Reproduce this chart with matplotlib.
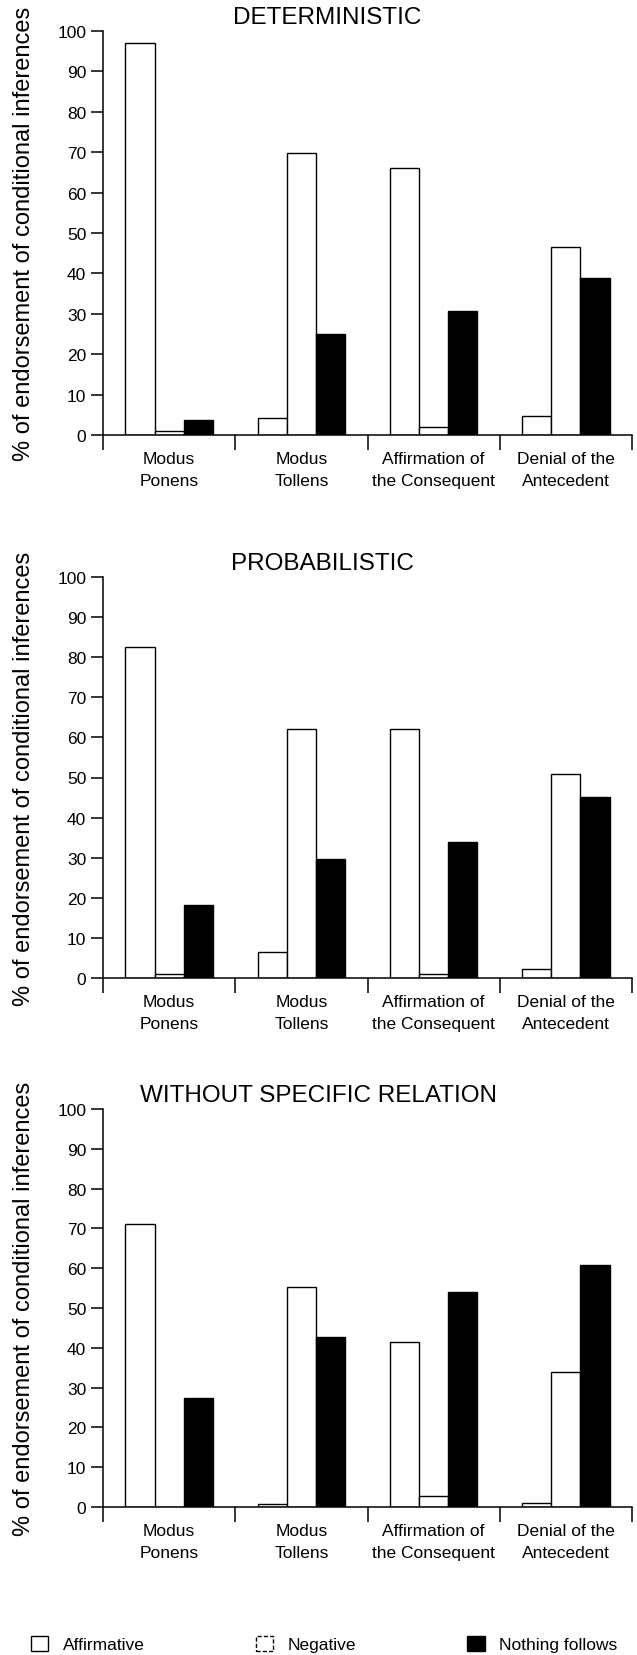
import matplotlib
matplotlib.use("Agg")
import matplotlib.pyplot as plt
from matplotlib import font_manager
from matplotlib.patches import Patch
import numpy as np

# inference types, one group of bars each
inferences = ["Modus\nPonens", "Modus\nTollens", "Affirmation of\nthe Consequent", "Denial of the\nAntecedent"]

# % endorsement
det_aff = [97.0, 4.3, 66.2, 4.8]
det_neg = [1.0, 69.7, 2.1, 46.6]
det_nf = [3.8, 25.1, 30.7, 38.9]

prob_aff = [82.6, 6.4, 62.2, 2.2]
prob_neg = [1.1, 62.2, 0.9, 50.9]
prob_nf = [18.2, 29.6, 33.9, 45.1]

wsr_aff = [71.1, 0.8, 41.5, 1.0]
wsr_neg = [0.0, 55.3, 2.7, 33.8]
wsr_nf = [27.3, 42.8, 54.0, 60.8]

panels = [
    ("DETERMINISTIC", det_aff, det_neg, det_nf),
    ("PROBABILISTIC", prob_aff, prob_neg, prob_nf),
    ("WITHOUT SPECIFIC RELATION", wsr_aff, wsr_neg, wsr_nf),
]
ylabel = "% of endorsement of conditional inferences"

installed = {f.name for f in font_manager.fontManager.ttflist}
if "Liberation Sans Narrow" in installed:
    NARROW, small = "Liberation Sans Narrow", 15
else:
    NARROW, small = "Liberation Sans", 12.5
SANS = "Liberation Sans"

W, H = 637, 1656
fig = plt.figure(figsize=(W / 100, H / 100), dpi=100)
frames = [(32, 436), (578, 979), (1110, 1508)]  # top/bottom of each panel in px
title_x = [327, 322, 319]                        # title centres in px
w = 0.22

for (title, aff, neg, nf), (top, bot), tx in zip(panels, frames, title_x):
    ax = fig.add_axes([103 / W, 1 - bot / H, 529 / W, (bot - top) / H])
    x = np.arange(len(inferences)) + 0.5
    ax.bar(x - w, aff, w, facecolor="white", edgecolor="black", linewidth=1)
    ax.bar(x, neg, w, facecolor="white", edgecolor="black", linewidth=1)
    ax.bar(x + w, nf, w, facecolor="black", edgecolor="black", linewidth=1)

    ax.set_xlim(0, 4)
    ax.set_ylim(0, 100)
    ax.set_yticks(range(0, 101, 10))
    for lab in ax.get_yticklabels():
        lab.set_family(NARROW)
        lab.set_fontsize(12.5)
    ax.set_xticks(range(5))
    ax.set_xticklabels([])
    ax.set_xticks(x, minor=True)
    ax.set_xticklabels(inferences, minor=True, family=NARROW, fontsize=small, linespacing=1.55)
    ax.tick_params(axis="x", which="major", length=11, width=1.1)
    ax.tick_params(axis="x", which="minor", length=0, pad=11.5)
    ax.tick_params(axis="y", length=9, width=1.1, pad=3)
    for s in ("top", "right"):
        ax.spines[s].set_visible(False)
    for s in ("left", "bottom"):
        ax.spines[s].set_linewidth(1.1)

    fig.text(tx / W, 1 - (top - 14) / H, title,
             ha="center", va="center", family=SANS, fontsize=17.5)
    fig.text(24 / W, 1 - (top + bot) / 2 / H, ylabel, rotation=90,
             ha="center", va="center", family=SANS, fontsize=17)

handles = [
    Patch(facecolor="white", edgecolor="black", linewidth=1, label="Affirmative"),
    Patch(facecolor="white", edgecolor="black", linewidth=1, linestyle=(0, (3, 1.5)), label="Negative"),
    Patch(facecolor="black", edgecolor="black", linewidth=1, label="Nothing follows"),
]
fig.legend(handles=handles, loc="center left", bbox_to_anchor=(31 / W, 1 - 1645 / H),
           ncol=3, frameon=False, borderpad=0, borderaxespad=0,
           handlelength=0.98, handleheight=0.98, handletextpad=0.86,
           columnspacing=6.4, prop={"family": NARROW, "size": small})

fig.savefig("out.png", dpi=100)
